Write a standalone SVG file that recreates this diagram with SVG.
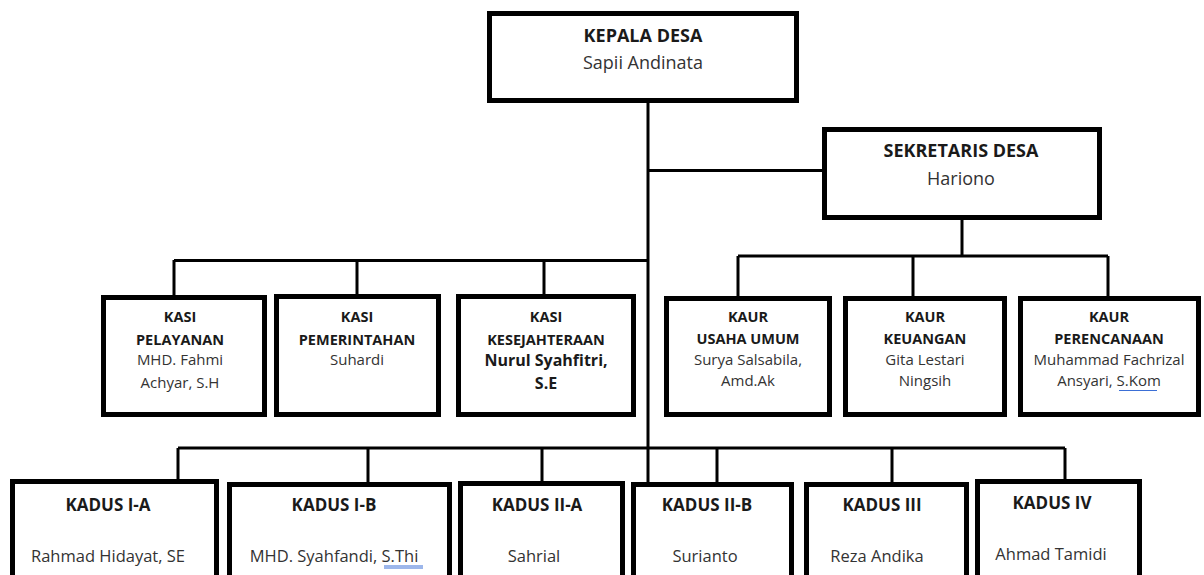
<svg xmlns="http://www.w3.org/2000/svg" width="1204" height="575" viewBox="0 0 1204 575">
<style>
.box{fill:#fff;stroke:#000;stroke-width:5}
.ln{fill:none;stroke:#000;stroke-width:3}
text{font-family:"Open Sans","Liberation Sans",sans-serif;text-anchor:middle;fill:#1a1a1a}
.h1{font-size:18px;font-weight:bold}
.n1{font-size:18px;fill:#333}
.t{font-size:14.5px;font-weight:bold}
.n{font-size:15px;fill:#333}
.nb{font-size:16px;font-weight:bold}
.kt{font-size:17px;font-weight:bold}
.kn{font-size:16.5px;fill:#333}
.sp{stroke:#3b6fd6;stroke-width:1;fill:none}
</style>
<rect width="1204" height="575" fill="#fff"/>
<g id="connectors">
<path class="ln" d="M648 101V482"/>
<path class="ln" d="M648 170.5H822"/>
<path class="ln" d="M962 218V256"/>
<path class="ln" d="M738 256H1108M738 256V297M913 256V297M1108 256V297"/>
<path class="ln" d="M174 260.5H648M174 260V297M357 260V296M544 260V296"/>
<path class="ln" d="M178 448H1065M178 448V480M368 448V482M542 448V481M717 448V482M892 448V482M1065 448V480"/>
</g>
<g id="kepala-desa">
<rect class="box" x="489.5" y="13.5" width="307" height="87"/>
<text class="h1" x="643" y="42">KEPALA DESA</text>
<text class="n1" x="643" y="68.5">Sapii Andinata</text>
</g>
<g id="sekretaris-desa">
<rect class="box" x="824.5" y="129.5" width="275" height="88"/>
<text class="h1" x="961" y="157">SEKRETARIS DESA</text>
<text class="n1" x="961" y="185">Hariono</text>
</g>
<g id="kasi-pelayanan">
<rect class="box" x="103.5" y="297.5" width="161" height="117"/>
<text class="t" x="180" y="322">KASI</text>
<text class="t" x="180" y="345">PELAYANAN</text>
<text class="n" x="180" y="365">MHD. Fahmi</text>
<text class="n" x="180" y="388">Achyar, S.H</text>
</g>
<g id="kasi-pemerintahan">
<rect class="box" x="276.5" y="296.5" width="162" height="118"/>
<text class="t" x="357" y="322">KASI</text>
<text class="t" x="357" y="345">PEMERINTAHAN</text>
<text class="n" x="357" y="365">Suhardi</text>
</g>
<g id="kasi-kesejahteraan">
<rect class="box" x="458.5" y="296.5" width="175" height="118"/>
<text class="t" x="546" y="322">KASI</text>
<text class="t" x="546" y="345">KESEJAHTERAAN</text>
<text class="nb" x="546" y="366">Nurul Syahfitri,</text>
<text class="nb" x="546" y="389">S.E</text>
</g>
<g id="kaur-usaha-umum">
<rect class="box" x="666.5" y="298.5" width="163" height="116"/>
<text class="t" x="748" y="322">KAUR</text>
<text class="t" x="748" y="344">USAHA UMUM</text>
<text class="n" x="748" y="365">Surya Salsabila,</text>
<text class="n" x="748" y="386">Amd.Ak</text>
</g>
<g id="kaur-keuangan">
<rect class="box" x="845.5" y="298.5" width="159" height="116"/>
<text class="t" x="925" y="322">KAUR</text>
<text class="t" x="925" y="344">KEUANGAN</text>
<text class="n" x="925" y="365">Gita Lestari</text>
<text class="n" x="925" y="386">Ningsih</text>
</g>
<g id="kaur-perencanaan">
<rect class="box" x="1020.5" y="298.5" width="178" height="116"/>
<text class="t" x="1109" y="322">KAUR</text>
<text class="t" x="1109" y="344">PERENCANAAN</text>
<text class="n" x="1109" y="365">Muhammad Fachrizal</text>
<text class="n" x="1109" y="386">Ansyari, S.Kom</text>
<path class="sp" d="M1119 390.5H1157"/>
</g>
<g id="kadus-1a">
<rect class="box" x="12.5" y="481.5" width="204" height="110"/>
<text class="kt" x="108" y="511">KADUS I-A</text>
<text class="kn" x="108" y="562">Rahmad Hidayat, SE</text>
</g>
<g id="kadus-1b">
<rect class="box" x="229.5" y="484.5" width="220" height="110"/>
<text class="kt" x="334" y="511">KADUS I-B</text>
<text class="kn" x="334" y="562">MHD. Syahfandi, S.Thi</text>
<path class="sp" d="M384 566H423M384 568H423"/>
</g>
<g id="kadus-2a">
<rect class="box" x="460.5" y="483.5" width="162" height="110"/>
<text class="kt" x="537" y="511">KADUS II-A</text>
<text class="kn" x="534" y="562">Sahrial</text>
</g>
<g id="kadus-2b">
<rect class="box" x="633.5" y="484.5" width="158" height="110"/>
<text class="kt" x="707" y="511">KADUS II-B</text>
<text class="kn" x="705" y="562">Surianto</text>
</g>
<g id="kadus-3">
<rect class="box" x="806.5" y="484.5" width="160" height="110"/>
<text class="kt" x="882" y="511">KADUS III</text>
<text class="kn" x="877" y="562">Reza Andika</text>
</g>
<g id="kadus-4">
<rect class="box" x="977.5" y="481.5" width="162" height="110"/>
<text class="kt" x="1052" y="509">KADUS IV</text>
<text class="kn" x="1051" y="560">Ahmad Tamidi</text>
</g>
</svg>
